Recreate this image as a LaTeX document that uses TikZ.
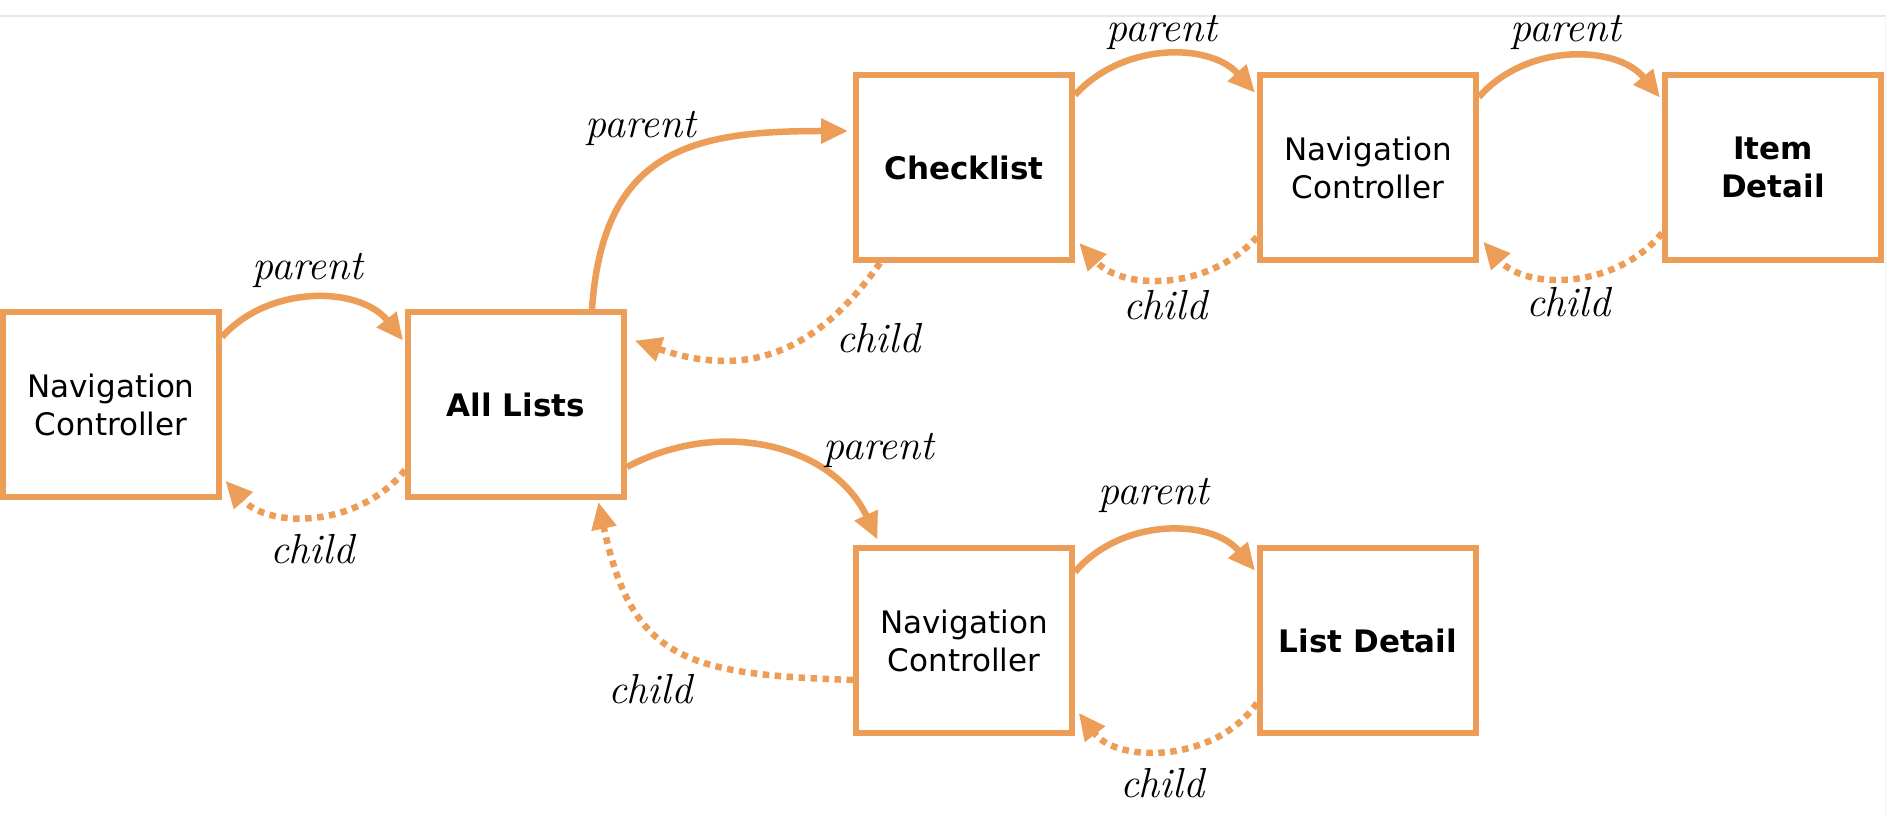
\documentclass[tikz,border=0pt]{standalone}
\usepackage{fontspec}
\newfontfamily\boxfont{DejaVu Sans}
\usetikzlibrary{arrows.meta}
\definecolor{navorange}{RGB}{236,157,87}
\definecolor{framegray}{RGB}{232,232,232}
\definecolor{edgegray}{RGB}{244,244,244}
\begin{document}
\begin{tikzpicture}[x=1pt,y=1pt,
  vc/.style={draw=navorange, line width=6pt, minimum width=216pt, minimum height=185pt,
    inner sep=0pt, align=center, fill=white, font=\boxfont\fontsize{31}{38}\selectfont},
  vcb/.style={vc, font=\boxfont\bfseries\fontsize{31}{38}\selectfont},
  parentarrow/.style={draw=navorange, line width=6.5pt, shorten >=3pt,
    -{Triangle[length=27pt,width=24pt]}},
  childarrow/.style={parentarrow, dash pattern=on 6.5pt off 5.5pt},
  lbl/.style={font=\itshape\fontsize{42}{42}\selectfont, inner sep=0pt, anchor=base},
  frameline/.style={draw=framegray, line width=1.5pt},
  edgeline/.style={draw=edgegray, line width=1.5pt},
]
\useasboundingbox (0,0) rectangle (1886,817);
% faint frame
\coordinate (frameL) at (0,801);
\coordinate (frameR) at (1885.5,801);
\coordinate (frameB) at (1885.5,0);
\draw[frameline] (frameL) -- (frameR);
\draw[edgeline] (frameR) -- (frameB);

% boxes
\node[vc]  (navA)  at (111,412.5)   {Navigation\\Controller};
\node[vcb] (all)   at (516,412.5)   {All Lists};
\node[vcb] (check) at (964,649.5)   {Checklist};
\node[vc]  (navC)  at (1368,649.5)  {Navigation\\Controller};
\node[vcb] (item)  at (1773,649.5)  {Item\\Detail};
\node[vc]  (navL)  at (964,176.5)   {Navigation\\Controller};
\node[vcb] (listd) at (1368,176.5)  {List Detail};

% parent arrows
\draw[parentarrow] ([yshift=67.5pt]navA.east) to[bend left=50] ([yshift=61.5pt]all.west);
\draw[parentarrow, shorten >=5pt] ([xshift=76pt]all.north) to[out=86,in=180,looseness=1.3] ([yshift=36.5pt]check.west);
\draw[parentarrow, shorten >=6pt] ([yshift=-62.5pt]all.east) to[out=28,in=115,looseness=1.05] ([xshift=-84pt]navL.north);
\draw[parentarrow] ([yshift=72.5pt]check.east) to[bend left=48] ([yshift=72.5pt]navC.west);
\draw[parentarrow] ([yshift=70.5pt]navC.east) to[bend left=50] ([yshift=67.5pt]item.west);
\draw[parentarrow] ([yshift=68.5pt]navL.east) to[bend left=50] ([yshift=67.5pt]listd.west);

% child arrows
\draw[childarrow, shorten >=5pt] ([yshift=-65.5pt]all.west) to[bend left=50] ([yshift=-72.5pt]navA.east);
\draw[childarrow, shorten >=8pt] ([xshift=-84pt]check.south) to[out=-125,in=-19,looseness=1.15] ([yshift=66.5pt]all.east);
\draw[childarrow, shorten >=2pt] ([yshift=-39.5pt]navL.west) to[out=178,in=-78,looseness=1.35] ([xshift=82pt]all.south);
\draw[childarrow, shorten >=6pt] ([yshift=-69.5pt]navC.west) to[bend left=48] ([yshift=-71pt]check.east);
\draw[childarrow, shorten >=6pt] ([yshift=-65.5pt]item.west) to[bend left=50] ([yshift=-69.5pt]navC.east);
\draw[childarrow, shorten >=6pt] ([yshift=-62.5pt]listd.west) to[bend left=54] ([yshift=-67.5pt]navL.east);

% labels
\node[lbl] (pl1) at (308,537) {parent};
\node[lbl] (cl1) at (312,254) {child};
\node[lbl] (pl2) at (641,679) {parent};
\node[lbl] (cl2) at (878,464) {child};
\node[lbl] (pl3) at (879,357) {parent};
\node[lbl] (cl3) at (650,114) {child};
\node[lbl] (pl4) at (1162,775) {parent};
\node[lbl] (cl4) at (1165,497) {child};
\node[lbl] (pl5) at (1566,775) {parent};
\node[lbl] (cl5) at (1568,500) {child};
\node[lbl] (pl6) at (1154,312) {parent};
\node[lbl] (cl6) at (1162,20) {child};
\end{tikzpicture}
\end{document}
